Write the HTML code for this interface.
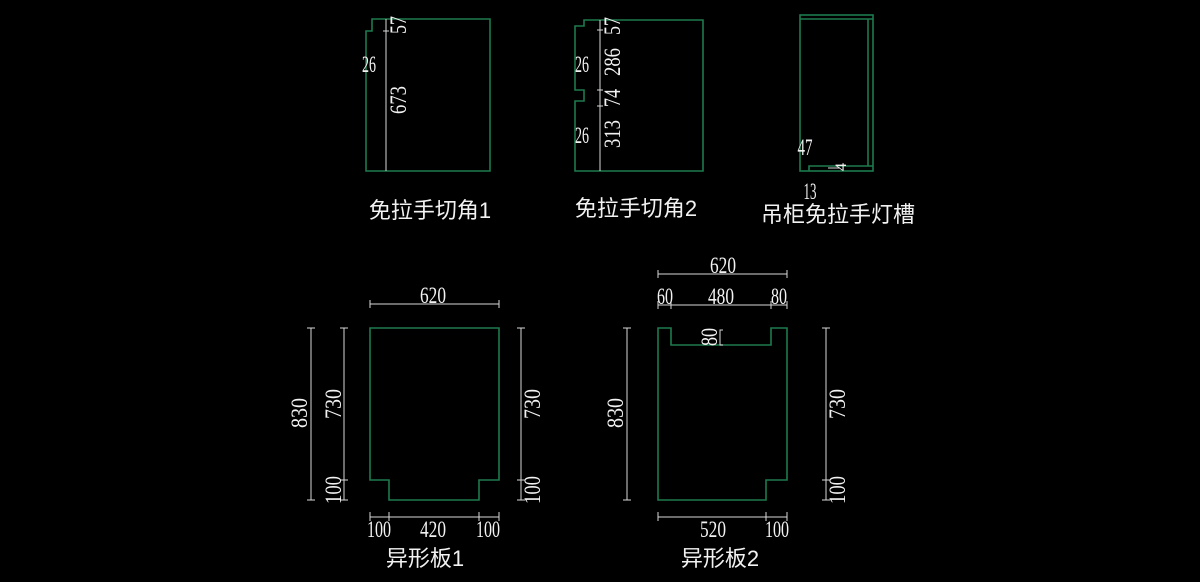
<!DOCTYPE html>
<html><head><meta charset="utf-8"><style>
html,body{margin:0;padding:0;background:#000;}
svg{display:block}
.o{fill:none;stroke:#1d7a4e;stroke-width:1.6}
.d{fill:none;stroke:#d8d8d8;stroke-width:1}
.t{fill:#f2f2f2;font-family:"Liberation Serif",serif;font-size:23px}
.c{fill:#f2f2f2;font-family:"Liberation Sans","Noto Sans CJK SC",sans-serif;font-size:22px}
</style></head><body>
<svg width="1200" height="582" viewBox="0 0 1200 582" xmlns="http://www.w3.org/2000/svg">
<!-- Panel A -->
<path class="o" d="M372 19 H490 V171 H366 V31 H372 Z"/>
<line class="d" x1="386" y1="19" x2="386" y2="171"/>
<line class="d" x1="383" y1="31" x2="389" y2="31"/>
<g class="t">
<text transform="translate(406,25) rotate(-90)" text-anchor="middle" textLength="18" lengthAdjust="spacingAndGlyphs">57</text>
<text transform="translate(406,100) rotate(-90)" text-anchor="middle" textLength="28" lengthAdjust="spacingAndGlyphs">673</text>
<text x="369" y="72" text-anchor="middle" textLength="14" lengthAdjust="spacingAndGlyphs">26</text>
</g>
<text class="c" x="430" y="218" text-anchor="middle">免拉手切角1</text>

<!-- Panel B -->
<path class="o" d="M584 20 H703 V171 H575 V101 H584 V90 H575 V26 H584 Z"/>
<line class="d" x1="600" y1="20" x2="600" y2="171"/>
<line class="d" x1="597" y1="30" x2="603" y2="30"/>
<line class="d" x1="597" y1="90" x2="603" y2="90"/>
<line class="d" x1="597" y1="106" x2="603" y2="106"/>
<g class="t">
<text transform="translate(620,26) rotate(-90)" text-anchor="middle" textLength="18" lengthAdjust="spacingAndGlyphs">57</text>
<text transform="translate(620,62) rotate(-90)" text-anchor="middle" textLength="28" lengthAdjust="spacingAndGlyphs">286</text>
<text transform="translate(620,98) rotate(-90)" text-anchor="middle" textLength="18" lengthAdjust="spacingAndGlyphs">74</text>
<text transform="translate(620,134) rotate(-90)" text-anchor="middle" textLength="28" lengthAdjust="spacingAndGlyphs">313</text>
<text x="582" y="72" text-anchor="middle" textLength="14" lengthAdjust="spacingAndGlyphs">26</text>
<text x="582" y="143" text-anchor="middle" textLength="14" lengthAdjust="spacingAndGlyphs">26</text>
</g>
<text class="c" x="636" y="216" text-anchor="middle">免拉手切角2</text>

<!-- Panel C -->
<rect class="o" x="800" y="15" width="73" height="156"/>
<line class="o" x1="800" y1="19" x2="873" y2="19"/>
<line class="o" x1="868" y1="19" x2="868" y2="166"/>
<path class="o" d="M809 171 V166 H873"/>
<line class="d" x1="828" y1="168" x2="840" y2="168"/>
<g class="t">
<text x="805" y="155" text-anchor="middle" textLength="15" lengthAdjust="spacingAndGlyphs">47</text>
<text transform="translate(846,167) rotate(-90)" text-anchor="middle" font-size="16">4</text>
<text x="810" y="199" text-anchor="middle" textLength="13" lengthAdjust="spacingAndGlyphs">13</text>
</g>
<text class="c" x="838" y="222" text-anchor="middle">吊柜免拉手灯槽</text>

<!-- Panel 1 -->
<path class="o" d="M370 328 H499 V480 H479 V500 H389 V480 H370 Z"/>
<g class="d">
<line x1="370" y1="304" x2="499" y2="304"/><line x1="370" y1="300" x2="370" y2="308"/><line x1="499" y1="300" x2="499" y2="308"/>
<line x1="311" y1="328" x2="311" y2="500"/><line x1="307" y1="328" x2="315" y2="328"/><line x1="307" y1="500" x2="315" y2="500"/>
<line x1="344" y1="328" x2="344" y2="500"/><line x1="340" y1="328" x2="348" y2="328"/><line x1="340" y1="480" x2="348" y2="480"/><line x1="340" y1="500" x2="348" y2="500"/>
<line x1="521" y1="328" x2="521" y2="500"/><line x1="517" y1="328" x2="525" y2="328"/><line x1="517" y1="480" x2="525" y2="480"/><line x1="517" y1="500" x2="525" y2="500"/>
<line x1="370" y1="517" x2="499" y2="517"/><line x1="370" y1="512" x2="370" y2="521"/><line x1="389" y1="512" x2="389" y2="521"/><line x1="479" y1="512" x2="479" y2="521"/><line x1="499" y1="512" x2="499" y2="521"/>
</g>
<g class="t">
<text x="433" y="303" text-anchor="middle" textLength="26" lengthAdjust="spacingAndGlyphs">620</text>
<text transform="translate(307,413) rotate(-90)" text-anchor="middle" textLength="30" lengthAdjust="spacingAndGlyphs">830</text>
<text transform="translate(341,404) rotate(-90)" text-anchor="middle" textLength="30" lengthAdjust="spacingAndGlyphs">730</text>
<text transform="translate(341,490) rotate(-90)" text-anchor="middle" textLength="28" lengthAdjust="spacingAndGlyphs">100</text>
<text transform="translate(540,404) rotate(-90)" text-anchor="middle" textLength="30" lengthAdjust="spacingAndGlyphs">730</text>
<text transform="translate(540,490) rotate(-90)" text-anchor="middle" textLength="28" lengthAdjust="spacingAndGlyphs">100</text>
<text x="379" y="537" text-anchor="middle" textLength="24" lengthAdjust="spacingAndGlyphs">100</text>
<text x="433" y="537" text-anchor="middle" textLength="26" lengthAdjust="spacingAndGlyphs">420</text>
<text x="488" y="537" text-anchor="middle" textLength="24" lengthAdjust="spacingAndGlyphs">100</text>
</g>
<text class="c" x="425" y="566" text-anchor="middle">异形板1</text>

<!-- Panel 2 -->
<path class="o" d="M658 328 H671 V345 H771 V328 H787 V480 H766 V500 H658 Z"/>
<g class="d">
<line x1="658" y1="274" x2="787" y2="274"/><line x1="658" y1="270" x2="658" y2="278"/><line x1="787" y1="270" x2="787" y2="278"/>
<line x1="658" y1="305" x2="787" y2="305"/><line x1="658" y1="301" x2="658" y2="309"/><line x1="671" y1="301" x2="671" y2="309"/><line x1="771" y1="301" x2="771" y2="309"/><line x1="787" y1="301" x2="787" y2="309"/>
<line x1="627" y1="328" x2="627" y2="500"/><line x1="623" y1="328" x2="631" y2="328"/><line x1="623" y1="500" x2="631" y2="500"/>
<line x1="826" y1="328" x2="826" y2="500"/><line x1="822" y1="328" x2="830" y2="328"/><line x1="822" y1="480" x2="830" y2="480"/><line x1="822" y1="500" x2="830" y2="500"/>
<path d="M723 330 H720 V345 H723"/>
<line x1="658" y1="517" x2="787" y2="517"/><line x1="658" y1="512" x2="658" y2="521"/><line x1="766" y1="512" x2="766" y2="521"/><line x1="787" y1="512" x2="787" y2="521"/>
</g>
<g class="t">
<text x="723" y="273" text-anchor="middle" textLength="26" lengthAdjust="spacingAndGlyphs">620</text>
<text x="665" y="304" text-anchor="middle" textLength="16" lengthAdjust="spacingAndGlyphs">60</text>
<text x="721" y="304" text-anchor="middle" textLength="26" lengthAdjust="spacingAndGlyphs">480</text>
<text x="779" y="304" text-anchor="middle" textLength="16" lengthAdjust="spacingAndGlyphs">80</text>
<text transform="translate(717,337) rotate(-90)" text-anchor="middle" textLength="18" lengthAdjust="spacingAndGlyphs">80</text>
<text transform="translate(623,413) rotate(-90)" text-anchor="middle" textLength="30" lengthAdjust="spacingAndGlyphs">830</text>
<text transform="translate(845,404) rotate(-90)" text-anchor="middle" textLength="30" lengthAdjust="spacingAndGlyphs">730</text>
<text transform="translate(845,490) rotate(-90)" text-anchor="middle" textLength="28" lengthAdjust="spacingAndGlyphs">100</text>
<text x="713" y="537" text-anchor="middle" textLength="26" lengthAdjust="spacingAndGlyphs">520</text>
<text x="777" y="537" text-anchor="middle" textLength="24" lengthAdjust="spacingAndGlyphs">100</text>
</g>
<text class="c" x="720" y="566" text-anchor="middle">异形板2</text>
</svg>
</body></html>
